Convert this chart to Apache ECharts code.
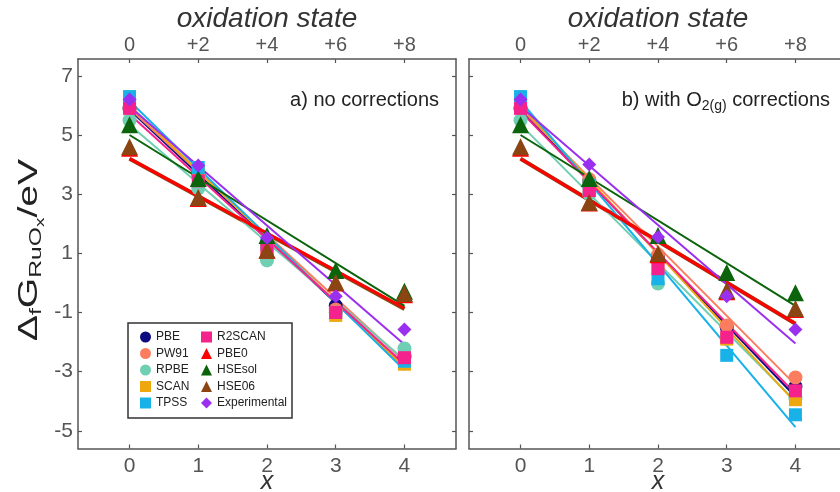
<!DOCTYPE html>
<html>
<head>
<meta charset="utf-8">
<script src="https://cdn.jsdelivr.net/npm/echarts@6/dist/echarts.min.js"></script>
<style>html,body{margin:0;padding:0;background:#fff}#c{width:840px;height:492px}</style>
</head>
<body>
<div id="c"></div>
<script>
// ---- data ----
const xValues = [0, 1, 2, 3, 4];
const oxidationLabels = ['0', '+2', '+4', '+6', '+8'];
const yTicks = [-5, -3, -1, 1, 3, 5, 7];
const methods = ['PBE', 'PW91', 'RPBE', 'SCAN', 'TPSS', 'R2SCAN', 'PBE0', 'HSEsol', 'HSE06', 'Experimental'];

// panel a) no corrections : points at x = 0..4, fit line values at x = 0 and x = 4
const PBE_a = [5.9, 3.7, 1.35, -0.77, -2.5];     const PBE_a_fit = [5.85, -2.85];
const PW91_a = [5.9, 3.6, 1.3, -0.9, -2.45];     const PW91_a_fit = [5.9, -2.65];
const RPBE_a = [5.5, 3.2, 0.76, -1.0, -2.22];    const RPBE_a_fit = [5.35, -2.6];
const SCAN_a = [6.0, 3.75, 1.2, -1.1, -2.75];    const SCAN_a_fit = [6.0, -2.85];
const TPSS_a = [6.3, 3.9, 1.3, -1.0, -2.65];     const TPSS_a_fit = [6.15, -2.95];
const R2SCAN_a = [5.9, 3.45, 1.16, -1.0, -2.53]; const R2SCAN_a_fit = [5.7, -2.75];
const PBE0_a = [4.55, 2.85, 1.1, 0.0, -0.4];     const PBE0_a_fit = [4.2, -0.85];
const HSEsol_a = [5.35, 3.53, 1.6, 0.42, -0.28]; const HSEsol_a_fit = [5.0, -0.78];
const HSE06_a = [4.6, 2.89, 1.1, 0.02, -0.36];   const HSE06_a_fit = [4.2, -0.88];
const Exp_a = [6.2, 3.97, 1.53, -0.45, -1.58];   const Exp_a_fit = [5.96, -2.08];

// panel b) with O2(g) corrections
const PBE_b = [5.9, 3.45, 0.9, -1.5, -3.5];      const PBE_b_fit = [5.85, -3.85];
const PW91_b = [5.9, 3.5, 0.95, -1.44, -3.2];    const PW91_b_fit = [5.9, -3.45];
const RPBE_b = [5.5, 3.0, -0.02, -1.9, -3.9];    const RPBE_b_fit = [5.35, -4.0];
const SCAN_b = [6.0, 3.3, 0.6, -1.9, -3.95];     const SCAN_b_fit = [6.0, -4.05];
const TPSS_b = [6.3, 3.3, 0.14, -2.45, -4.46];   const TPSS_b_fit = [6.15, -4.88];
const R2SCAN_b = [5.9, 3.12, 0.48, -1.84, -3.65];const R2SCAN_b_fit = [5.8, -3.75];
const PBE0_b = [4.55, 2.7, 0.95, -0.3, -0.9];    const PBE0_b_fit = [4.2, -1.38];
const HSEsol_b = [5.35, 3.53, 1.6, 0.35, -0.33]; const HSEsol_b_fit = [5.0, -0.78];
const HSE06_b = [4.6, 2.72, 0.99, -0.26, -0.87]; const HSE06_b_fit = [4.2, -1.38];
const Exp_b = [6.2, 4.0, 1.55, -0.45, -1.58];    const Exp_b_fit = [5.96, -2.05];

// ---- styling ----
const colors = ['#0c0c80', '#fa7d60', '#6fcfb2', '#eea80e', '#19b2e8', '#f5218c', '#ff0000', '#0b640b', '#8b4513', '#9b2ff0'];
const symbols = ['circle', 'circle', 'circle', 'rect', 'rect', 'rect', 'triangle', 'triangle', 'triangle', 'diamond'];
const symSizes = [14, 14, 14, 13, 13, 13, 17, 17, 17, 14];
const lineWidths = [2, 2, 2, 2, 2, 2, 3, 2, 4, 2];

const ptsA = [PBE_a, PW91_a, RPBE_a, SCAN_a, TPSS_a, R2SCAN_a, PBE0_a, HSEsol_a, HSE06_a, Exp_a];
const fitA = [PBE_a_fit, PW91_a_fit, RPBE_a_fit, SCAN_a_fit, TPSS_a_fit, R2SCAN_a_fit, PBE0_a_fit, HSEsol_a_fit, HSE06_a_fit, Exp_a_fit];
const ptsB = [PBE_b, PW91_b, RPBE_b, SCAN_b, TPSS_b, R2SCAN_b, PBE0_b, HSEsol_b, HSE06_b, Exp_b];
const fitB = [PBE_b_fit, PW91_b_fit, RPBE_b_fit, SCAN_b_fit, TPSS_b_fit, R2SCAN_b_fit, PBE0_b_fit, HSEsol_b_fit, HSE06_b_fit, Exp_b_fit];

const axisColor = '#555';
const font = 'Liberation Sans, Arial, sans-serif';

const series = [];
[[ptsA, 0], [ptsB, 1]].forEach(([pts, p]) => {
  methods.forEach((m, i) => {
    series.push({
      name: m, type: 'scatter', xAxisIndex: p * 2, yAxisIndex: p * 2,
      symbol: symbols[i], symbolSize: symSizes[i], z: 3,
      itemStyle: { color: colors[i], opacity: 1 },
      data: xValues.map((x, k) => [x, pts[i][k]])
    });
  });
});
// fit lines (HSE06 drawn before PBE0 so red sits on brown)
const lineOrder = [8, 0, 1, 2, 3, 4, 5, 6, 7, 9];
[[fitA, 0], [fitB, 1]].forEach(([fits, p]) => {
  lineOrder.forEach(i => {
    series.push({
      name: methods[i], type: 'line', xAxisIndex: p * 2, yAxisIndex: p * 2,
      showSymbol: false, symbol: 'none', z: 2, silent: true,
      lineStyle: { color: colors[i], width: lineWidths[i] },
      itemStyle: { color: colors[i] },
      data: [[xValues[0], fits[i][0]], [xValues[xValues.length - 1], fits[i][1]]]
    });
  });
});

function xAxes(grid) {
  return [
    {
      gridIndex: grid, type: 'value', position: 'bottom', min: -0.75, max: 4.75,
      axisLine: { onZero: false, lineStyle: { color: axisColor, width: 1.5 } },
      axisTick: { inside: true, length: 4, customValues: xValues, lineStyle: { color: axisColor, width: 1.2 } },
      axisLabel: { customValues: xValues, fontSize: 21, color: axisColor, fontFamily: font, margin: 7 },
      splitLine: { show: false },
      name: 'x', nameLocation: 'middle', nameGap: 21, nameMoveOverlap: false,
      nameTextStyle: { fontSize: 25, fontStyle: 'italic', color: '#333', fontFamily: font }
    },
    {
      gridIndex: grid, type: 'value', position: 'top', min: -0.75, max: 4.75,
      axisLine: { onZero: false, lineStyle: { color: axisColor, width: 1.5 } },
      axisTick: { inside: true, length: 4, customValues: xValues, lineStyle: { color: axisColor, width: 1.2 } },
      axisLabel: { customValues: xValues, fontSize: 20, color: axisColor, fontFamily: font, margin: 4,
        formatter: v => oxidationLabels[xValues.indexOf(Math.round(v))] },
      splitLine: { show: false },
      name: 'oxidation state', nameLocation: 'middle', nameGap: 26, nameMoveOverlap: false,
      nameTextStyle: { fontSize: 28, fontStyle: 'italic', color: '#333', fontFamily: font }
    }
  ];
}
function yAxes(grid, showLabels) {
  const base = {
    gridIndex: grid, type: 'value', min: -5.6, max: 7.57,
    axisLine: { show: true, onZero: false, lineStyle: { color: axisColor, width: 1.5 } },
    axisTick: { show: true, inside: true, length: 4, customValues: yTicks, lineStyle: { color: axisColor, width: 1.2 } },
    splitLine: { show: false }
  };
  return [
    Object.assign({}, base, { position: 'left',
      axisLabel: { show: showLabels, customValues: yTicks, fontSize: 21, color: axisColor, fontFamily: font, margin: 5 } }),
    Object.assign({}, base, { position: 'right', axisLabel: { show: false } })
  ];
}

const legendText = { fontSize: 12, color: '#222', fontFamily: font };
const option = {
  animation: false,
  backgroundColor: '#fff',
  grid: [
    { left: 78, top: 59, width: 378, height: 389.5, containLabel: false, outerBoundsMode: 'none' },
    { left: 469, top: 59, width: 378, height: 389.5, containLabel: false, outerBoundsMode: 'none' }
  ],
  xAxis: [...xAxes(0), ...xAxes(1)],
  yAxis: [...yAxes(0, true), ...yAxes(1, false)],
  legend: [
    { left: 140, top: 331, orient: 'vertical', itemWidth: 11, itemHeight: 11, itemGap: 4.5, padding: 0,
      selectedMode: false, textStyle: legendText, z: 6,
      data: methods.slice(0, 5).map((m, i) => ({ name: m, icon: symbols[i] })) },
    { left: 201, top: 331, orient: 'vertical', itemWidth: 11, itemHeight: 11, itemGap: 4.5, padding: 0,
      selectedMode: false, textStyle: legendText, z: 6,
      data: methods.slice(5).map((m, i) => ({ name: m, icon: symbols[i + 5] })) }
  ],
  graphic: [
    { type: 'rect', z: 5, shape: { x: 128, y: 323, width: 164, height: 95 },
      style: { fill: '#fff', stroke: '#333', lineWidth: 1.5 } },
    { type: 'text', z: 10, x: 439, y: 100,
      style: { text: 'a) no corrections', font: '20px Liberation Sans', fill: '#222', textAlign: 'right', textVerticalAlign: 'middle' } },
    { type: 'text', z: 10, x: 830, y: 100,
      style: { text: 'b) with O{s|2(g)} corrections', font: '20px Liberation Sans', fill: '#222', textAlign: 'right', textVerticalAlign: 'middle',
        rich: { s: { fontSize: 14, fontFamily: 'Liberation Sans', fill: '#222', padding: [12, 0, 0, 0] } } } },
    { type: 'text', z: 10, x: 30, y: 250, rotation: Math.PI / 2, scaleX: 1.45,
      style: {
        text: '{d|Δ}{s|f}{d|G}{s|RuO}{ss|x}{d|/eV}',
        fill: '#222', textAlign: 'center', textVerticalAlign: 'middle',
        rich: {
          d: { fontSize: 27, fontFamily: 'Liberation Sans', fill: '#222' },
          s: { fontSize: 17, fontFamily: 'Liberation Sans', fill: '#222', padding: [12, 0, 0, 0] },
          ss: { fontSize: 13, fontFamily: 'Liberation Sans', fill: '#222', padding: [20, 0, 0, 0] }
        }
      } }
  ],
  series: series
};
const chart = echarts.init(document.getElementById('c'), null, { renderer: 'canvas' });
chart.setOption(option);
</script>
</body>
</html>
